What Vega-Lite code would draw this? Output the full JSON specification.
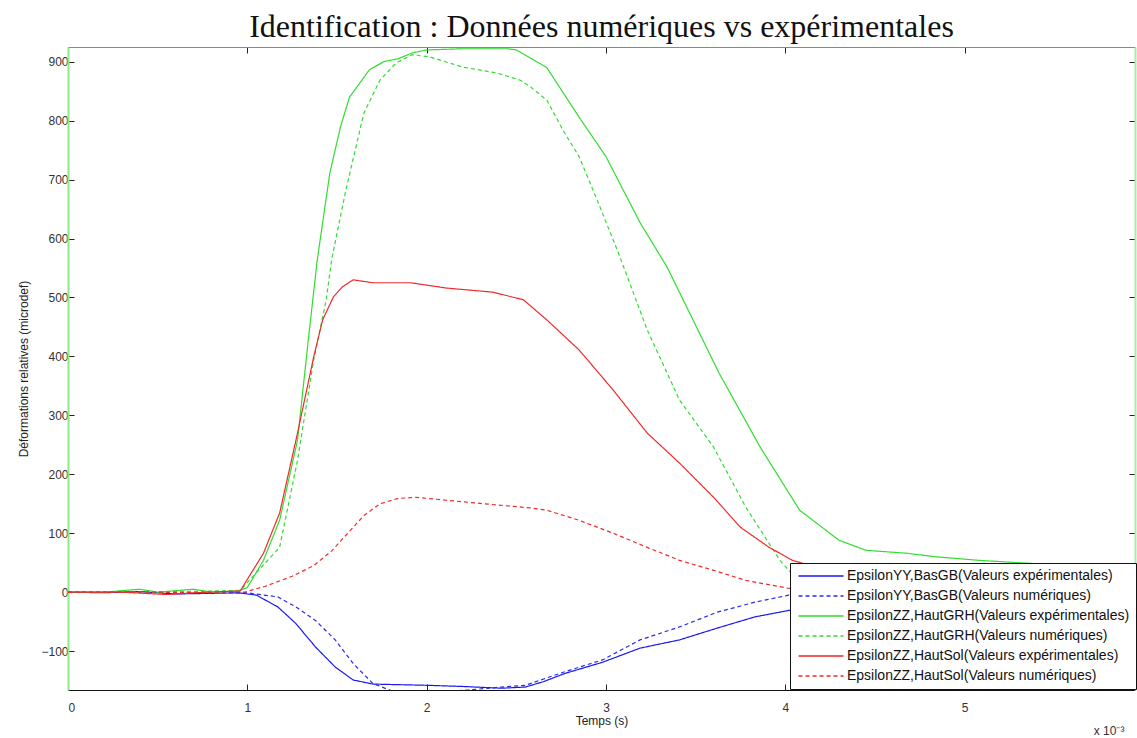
{
  "$schema": "https://vega.github.io/schema/vega-lite/v6.json",
  "width": 1067,
  "height": 643,
  "autosize": {"type": "none"},
  "padding": {"left": 68, "top": 47, "right": 2, "bottom": 48},
  "background": "white",
  "title": {"text": "Identification : Données numériques vs expérimentales", "font": "Liberation Serif", "fontSize": 32, "fontWeight": "normal", "color": "#111", "anchor": "middle", "offset": 3},
  "config": {
    "view": {"stroke": null},
    "axis": {"labelFont": "Liberation Sans", "labelFontSize": 12, "labelColor": "#333", "titleFont": "Liberation Sans", "titleFontSize": 12, "titleFontWeight": "normal", "titleColor": "#222", "grid": false, "tickColor": "#222", "domainColor": "#222", "tickSize": -6, "labelPadding": 6}
  },
  "datasets": {
    "names": [
      {"k": "A", "serie": "EpsilonYY,BasGB(Valeurs expérimentales)"},
      {"k": "B", "serie": "EpsilonYY,BasGB(Valeurs numériques)"},
      {"k": "C", "serie": "EpsilonZZ,HautGRH(Valeurs expérimentales)"},
      {"k": "D", "serie": "EpsilonZZ,HautGRH(Valeurs numériques)"},
      {"k": "E", "serie": "EpsilonZZ,HautSol(Valeurs expérimentales)"},
      {"k": "F", "serie": "EpsilonZZ,HautSol(Valeurs numériques)"}
    ]
  },
  "data": {"values": [
    {"k":"A","t":0,"v":0},{"k":"A","t":0.2,"v":-1},{"k":"A","t":0.4,"v":1},{"k":"A","t":0.6,"v":-3},{"k":"A","t":0.8,"v":-2},{"k":"A","t":0.95,"v":-1},{"k":"A","t":1.05,"v":-5},{"k":"A","t":1.17,"v":-25},{"k":"A","t":1.27,"v":-53},{"k":"A","t":1.38,"v":-93},{"k":"A","t":1.49,"v":-127},{"k":"A","t":1.59,"v":-149},{"k":"A","t":1.7,"v":-156},{"k":"A","t":1.85,"v":-157},{"k":"A","t":2.0,"v":-158},{"k":"A","t":2.2,"v":-160},{"k":"A","t":2.42,"v":-163},{"k":"A","t":2.55,"v":-161},{"k":"A","t":2.65,"v":-152},{"k":"A","t":2.77,"v":-138},{"k":"A","t":2.98,"v":-119},{"k":"A","t":3.19,"v":-95},{"k":"A","t":3.41,"v":-81},{"k":"A","t":3.62,"v":-61},{"k":"A","t":3.83,"v":-42},{"k":"A","t":4.02,"v":-31},{"k":"A","t":4.3,"v":-22},{"k":"A","t":4.7,"v":-14},{"k":"A","t":5.2,"v":-8},{"k":"A","t":5.95,"v":-5},
    {"k":"B","t":0,"v":0},{"k":"B","t":0.5,"v":0},{"k":"B","t":0.97,"v":0},{"k":"B","t":1.17,"v":-8},{"k":"B","t":1.27,"v":-25},{"k":"B","t":1.38,"v":-48},{"k":"B","t":1.49,"v":-81},{"k":"B","t":1.59,"v":-121},{"k":"B","t":1.7,"v":-155},{"k":"B","t":1.81,"v":-168},{"k":"B","t":2.0,"v":-170},{"k":"B","t":2.23,"v":-166},{"k":"B","t":2.42,"v":-161},{"k":"B","t":2.55,"v":-158},{"k":"B","t":2.77,"v":-135},{"k":"B","t":2.98,"v":-115},{"k":"B","t":3.19,"v":-81},{"k":"B","t":3.41,"v":-59},{"k":"B","t":3.62,"v":-34},{"k":"B","t":3.83,"v":-17},{"k":"B","t":4.02,"v":-5},{"k":"B","t":4.3,"v":0},{"k":"B","t":5.0,"v":2},{"k":"B","t":5.95,"v":2},
    {"k":"C","t":0,"v":0},{"k":"C","t":0.2,"v":0},{"k":"C","t":0.4,"v":5},{"k":"C","t":0.5,"v":0},{"k":"C","t":0.7,"v":5},{"k":"C","t":0.8,"v":0},{"k":"C","t":0.95,"v":2},{"k":"C","t":1.0,"v":8},{"k":"C","t":1.09,"v":54},{"k":"C","t":1.18,"v":122},{"k":"C","t":1.28,"v":258},{"k":"C","t":1.34,"v":428},{"k":"C","t":1.39,"v":564},{"k":"C","t":1.46,"v":711},{"k":"C","t":1.52,"v":790},{"k":"C","t":1.57,"v":840},{"k":"C","t":1.68,"v":886},{"k":"C","t":1.76,"v":900},{"k":"C","t":1.84,"v":905},{"k":"C","t":1.92,"v":915},{"k":"C","t":2.0,"v":920},{"k":"C","t":2.2,"v":922},{"k":"C","t":2.45,"v":922},{"k":"C","t":2.5,"v":920},{"k":"C","t":2.67,"v":890},{"k":"C","t":2.85,"v":806},{"k":"C","t":3.0,"v":739},{"k":"C","t":3.19,"v":627},{"k":"C","t":3.34,"v":552},{"k":"C","t":3.54,"v":428},{"k":"C","t":3.63,"v":372},{"k":"C","t":3.86,"v":246},{"k":"C","t":4.08,"v":139},{"k":"C","t":4.3,"v":88},{"k":"C","t":4.45,"v":71},{"k":"C","t":4.68,"v":66},{"k":"C","t":4.84,"v":60},{"k":"C","t":5.08,"v":54},{"k":"C","t":5.3,"v":50},{"k":"C","t":5.6,"v":45},{"k":"C","t":5.95,"v":40},
    {"k":"D","t":0,"v":0},{"k":"D","t":0.5,"v":0},{"k":"D","t":0.96,"v":3},{"k":"D","t":1.18,"v":76},{"k":"D","t":1.28,"v":224},{"k":"D","t":1.37,"v":394},{"k":"D","t":1.44,"v":496},{"k":"D","t":1.47,"v":564},{"k":"D","t":1.55,"v":683},{"k":"D","t":1.65,"v":813},{"k":"D","t":1.74,"v":869},{"k":"D","t":1.83,"v":898},{"k":"D","t":1.92,"v":912},{"k":"D","t":2.02,"v":908},{"k":"D","t":2.2,"v":891},{"k":"D","t":2.39,"v":881},{"k":"D","t":2.52,"v":869},{"k":"D","t":2.58,"v":857},{"k":"D","t":2.67,"v":835},{"k":"D","t":2.76,"v":784},{"k":"D","t":2.85,"v":739},{"k":"D","t":2.95,"v":666},{"k":"D","t":3.07,"v":575},{"k":"D","t":3.23,"v":445},{"k":"D","t":3.41,"v":326},{"k":"D","t":3.6,"v":246},{"k":"D","t":3.78,"v":144},{"k":"D","t":3.97,"v":54},{"k":"D","t":4.1,"v":10},{"k":"D","t":4.3,"v":0},{"k":"D","t":5.0,"v":0},{"k":"D","t":5.95,"v":0},
    {"k":"E","t":0,"v":0},{"k":"E","t":0.3,"v":0},{"k":"E","t":0.55,"v":-4},{"k":"E","t":0.7,"v":-1},{"k":"E","t":0.96,"v":2},{"k":"E","t":1.09,"v":66},{"k":"E","t":1.18,"v":134},{"k":"E","t":1.28,"v":270},{"k":"E","t":1.37,"v":399},{"k":"E","t":1.42,"v":462},{"k":"E","t":1.48,"v":501},{"k":"E","t":1.53,"v":518},{"k":"E","t":1.59,"v":530},{"k":"E","t":1.7,"v":525},{"k":"E","t":1.91,"v":525},{"k":"E","t":2.11,"v":516},{"k":"E","t":2.37,"v":509},{"k":"E","t":2.54,"v":496},{"k":"E","t":2.67,"v":462},{"k":"E","t":2.85,"v":411},{"k":"E","t":3.04,"v":343},{"k":"E","t":3.23,"v":270},{"k":"E","t":3.41,"v":219},{"k":"E","t":3.6,"v":161},{"k":"E","t":3.75,"v":110},{"k":"E","t":3.91,"v":76},{"k":"E","t":4.04,"v":54},{"k":"E","t":4.2,"v":40},{"k":"E","t":4.5,"v":25},{"k":"E","t":5.0,"v":12},{"k":"E","t":5.95,"v":5},
    {"k":"F","t":0,"v":0},{"k":"F","t":0.5,"v":0},{"k":"F","t":0.96,"v":-2},{"k":"F","t":1.1,"v":10},{"k":"F","t":1.25,"v":27},{"k":"F","t":1.37,"v":45},{"k":"F","t":1.47,"v":70},{"k":"F","t":1.56,"v":100},{"k":"F","t":1.65,"v":130},{"k":"F","t":1.74,"v":150},{"k":"F","t":1.84,"v":159},{"k":"F","t":1.94,"v":161},{"k":"F","t":2.11,"v":156},{"k":"F","t":2.39,"v":148},{"k":"F","t":2.58,"v":143},{"k":"F","t":2.67,"v":139},{"k":"F","t":2.85,"v":122},{"k":"F","t":3.04,"v":100},{"k":"F","t":3.23,"v":76},{"k":"F","t":3.41,"v":54},{"k":"F","t":3.6,"v":37},{"k":"F","t":3.78,"v":20},{"k":"F","t":4.01,"v":7},{"k":"F","t":4.3,"v":0},{"k":"F","t":5.0,"v":-2},{"k":"F","t":5.95,"v":-2}
  ]},
  "resolve": {"scale": {"x": "independent", "y": "independent"}, "axis": {"x": "independent", "y": "independent"}},
  "layer": [
    {
      "transform": [{"lookup": "k", "from": {"data": {"name": "names"}, "key": "k", "fields": ["serie"]}}],
      "mark": {"type": "line", "strokeWidth": 1.2, "clip": true},
      "encoding": {
        "x": {"field": "t", "type": "quantitative", "scale": {"domain": [0, 5.95], "nice": false, "zero": false},
              "axis": {"values": [0, 1, 2, 3, 4, 5], "title": "Temps (s)", "titlePadding": 2, "labelPadding": 18, "domainColor": "#111"}},
        "y": {"field": "v", "type": "quantitative", "scale": {"domain": [-166, 925], "nice": false, "zero": false},
              "axis": {"values": [-100, 0, 100, 200, 300, 400, 500, 600, 700, 800, 900], "title": "Déformations relatives (microdef)", "titlePadding": 10, "domainColor": "#8ee88e", "domainWidth": 2}},
        "color": {"field": "serie", "type": "nominal",
                  "scale": {"domain": ["EpsilonYY,BasGB(Valeurs expérimentales)", "EpsilonYY,BasGB(Valeurs numériques)", "EpsilonZZ,HautGRH(Valeurs expérimentales)", "EpsilonZZ,HautGRH(Valeurs numériques)", "EpsilonZZ,HautSol(Valeurs expérimentales)", "EpsilonZZ,HautSol(Valeurs numériques)"],
                            "range": ["#1a1aee", "#2a2aee", "#30dd30", "#30dd30", "#ee2a2a", "#ee2a2a"]},
                  "legend": {"title": null, "orient": "none", "legendX": 722, "legendY": 516, "fillColor": "white", "strokeColor": "#111", "padding": 6, "symbolType": "M-4.5,0H4.5", "symbolSize": 100, "symbolOffset": 18, "symbolStrokeWidth": 1.3, "labelFont": "Liberation Sans", "labelFontSize": 14, "labelColor": "#111", "labelOffset": 19, "rowPadding": 6, "labelLimit": 400}},
        "strokeDash": {"field": "serie", "type": "nominal",
                       "scale": {"domain": ["EpsilonYY,BasGB(Valeurs expérimentales)", "EpsilonYY,BasGB(Valeurs numériques)", "EpsilonZZ,HautGRH(Valeurs expérimentales)", "EpsilonZZ,HautGRH(Valeurs numériques)", "EpsilonZZ,HautSol(Valeurs expérimentales)", "EpsilonZZ,HautSol(Valeurs numériques)"],
                                 "range": [[1, 0], [4, 3], [1, 0], [4, 3], [1, 0], [4, 3]]},
                       "legend": {"title": null, "orient": "none", "legendX": 722, "legendY": 516, "fillColor": "white", "strokeColor": "#111", "padding": 6, "symbolType": "M-4.5,0H4.5", "symbolSize": 100, "symbolOffset": 18, "symbolStrokeWidth": 1.3, "labelFont": "Liberation Sans", "labelFontSize": 14, "labelColor": "#111", "labelOffset": 19, "rowPadding": 6, "labelLimit": 400}}
      }
    },
    {
      "mark": {"type": "line", "opacity": 0},
      "encoding": {
        "x": {"field": "t", "type": "quantitative", "scale": {"domain": [0, 5.95], "nice": false, "zero": false},
              "axis": {"orient": "top", "values": [0, 1, 2, 3, 4, 5], "labels": false, "title": null, "domainColor": "#888"}},
        "y": {"field": "v", "type": "quantitative", "scale": {"domain": [-166, 925], "nice": false, "zero": false},
              "axis": {"orient": "right", "values": [-100, 0, 100, 200, 300, 400, 500, 600, 700, 800, 900], "labels": false, "title": null, "domainColor": "#a8eea8", "domainWidth": 2}},
        "detail": {"field": "k", "type": "nominal"}
      }
    },
    {
      "data": {"values": [{"label": "x 10⁻³"}]},
      "mark": {"type": "text", "align": "left", "baseline": "alphabetic", "font": "Liberation Sans", "fontSize": 12, "color": "#333", "clip": false},
      "encoding": {
        "x": {"datum": 5.72, "type": "quantitative", "scale": {"domain": [0, 5.95], "nice": false, "zero": false}, "axis": null},
        "y": {"datum": -242, "type": "quantitative", "scale": {"domain": [-166, 925], "nice": false, "zero": false}, "axis": null},
        "text": {"field": "label"}
      }
    }
  ]
}
